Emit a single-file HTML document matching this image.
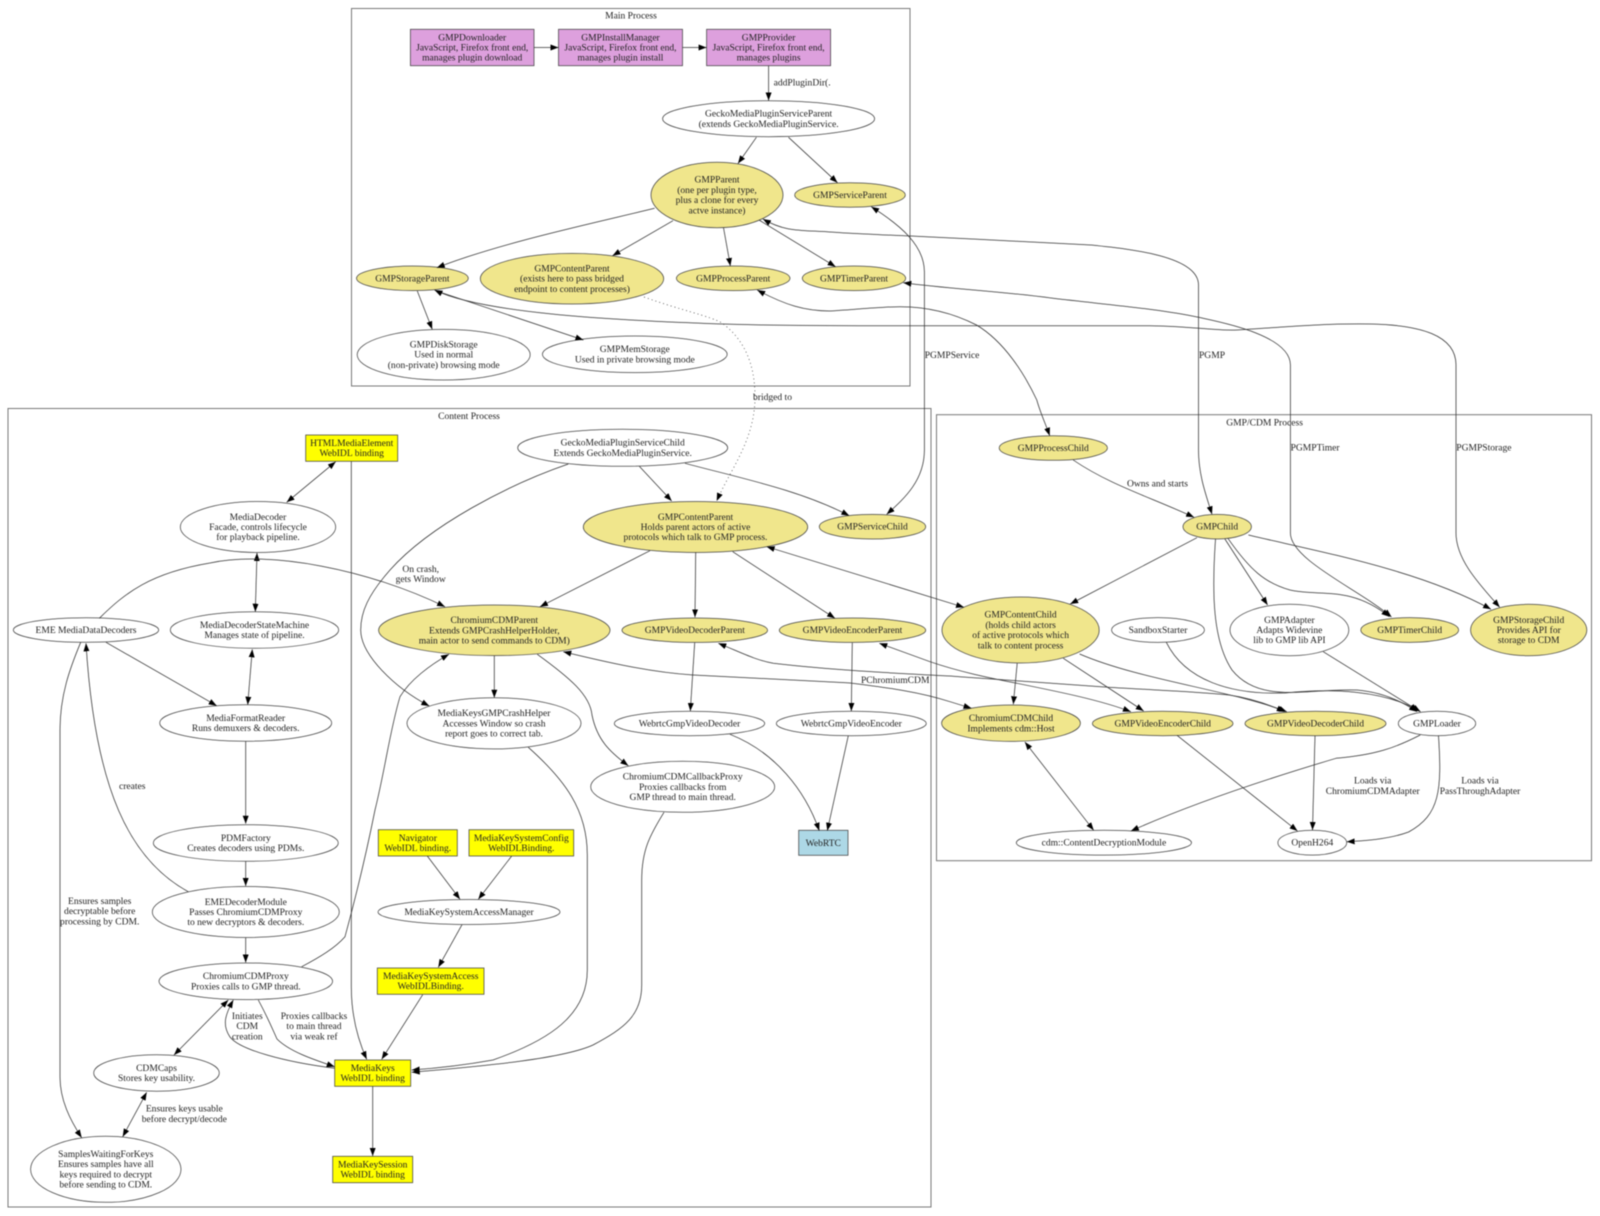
<!DOCTYPE html>
<html><head><meta charset="utf-8"><style>
html,body{margin:0;padding:0;background:#fff;width:1600px;height:1216px;overflow:hidden}
svg{display:block;filter:blur(.4px)}
text{font-family:"Liberation Serif",serif;font-size:9.55px;fill:#222;text-anchor:middle}
text.l{text-anchor:start}
.c{fill:none;stroke:#777;stroke-width:1}
.e path{fill:none;stroke:#333;stroke-width:.75;marker-end:url(#a)}
.e path.b{marker-start:url(#s)}
.e path.d{stroke-dasharray:1 3;stroke:#444}
.n ellipse,.n rect{stroke:#444;stroke-width:.75}
.w{fill:#fff}.k{fill:#f0e68c}.y{fill:#ff0}.p{fill:#dda0dd}.u{fill:#add8e6}
</style></head><body>
<svg xmlns="http://www.w3.org/2000/svg" width="1600" height="1216" viewBox="0 0 1600 1216">
<defs>
<marker id="a" markerUnits="userSpaceOnUse" viewBox="0 0 8 6" refX="8" refY="3" markerWidth="8" markerHeight="6" orient="auto"><path d="M0,0L8,3L0,6z" fill="#000"/></marker>
<marker id="s" markerUnits="userSpaceOnUse" viewBox="0 0 8 6" refX="0" refY="3" markerWidth="8" markerHeight="6" orient="auto"><path d="M8,0L0,3L8,6z" fill="#000"/></marker>
</defs>
<rect width="1600" height="1216" fill="#fff"/>
<rect class="c" x="351.5" y="8.5" width="558.5" height="377.5"/>
<rect class="c" x="8" y="408.5" width="923" height="798.5"/>
<rect class="c" x="936.5" y="414.7" width="655" height="446"/>
<text x="631" y="18.5">Main Process</text>
<text x="469" y="419">Content Process</text>
<text x="1264.6" y="425.5">GMP/CDM Process</text>

<g class="n">
<rect class="p" x="410.4" y="29.3" width="123.6" height="36.4"/>
<rect class="p" x="558.5" y="29.3" width="124" height="36.4"/>
<rect class="p" x="706.6" y="29.3" width="124" height="36.4"/>
<ellipse class="w" cx="768.6" cy="118.7" rx="106" ry="18"/>
<ellipse class="k" cx="717" cy="195" rx="66" ry="32.7"/>
<ellipse class="k" cx="850" cy="195" rx="55.3" ry="12.2"/>
<ellipse class="k" cx="412.4" cy="278.3" rx="55.9" ry="12.3"/>
<ellipse class="k" cx="572" cy="278.7" rx="91.7" ry="25.3"/>
<ellipse class="k" cx="733.2" cy="278.3" rx="56.8" ry="12.3"/>
<ellipse class="k" cx="854" cy="278.3" rx="51.7" ry="12.3"/>
<ellipse class="w" cx="443.7" cy="354.7" rx="86.5" ry="25.3"/>
<ellipse class="w" cx="634.8" cy="354.3" rx="92.4" ry="18.3"/>
<rect class="y" x="305.7" y="435" width="92" height="26.3"/>
<ellipse class="w" cx="258" cy="527" rx="77.7" ry="25.5"/>
<ellipse class="w" cx="86" cy="630" rx="72.7" ry="12.3"/>
<ellipse class="w" cx="254.5" cy="630" rx="84.2" ry="18.3"/>
<ellipse class="k" cx="494.3" cy="630.3" rx="115.7" ry="25.3"/>
<ellipse class="w" cx="245.7" cy="723" rx="86" ry="18.2"/>
<ellipse class="w" cx="494" cy="723.3" rx="87" ry="25.6"/>
<ellipse class="w" cx="245.8" cy="843" rx="92.5" ry="18.3"/>
<ellipse class="w" cx="245.8" cy="912" rx="93.5" ry="25.5"/>
<ellipse class="w" cx="245.8" cy="981.3" rx="86.8" ry="18.3"/>
<ellipse class="w" cx="156.5" cy="1073" rx="62.8" ry="18.2"/>
<ellipse class="w" cx="105.8" cy="1169.3" rx="75.2" ry="33"/>
<rect class="y" x="334.7" y="1060" width="76" height="26.3"/>
<rect class="y" x="332.7" y="1156.3" width="80" height="26.4"/>
<rect class="y" x="378.3" y="829.7" width="79" height="26.3"/>
<rect class="y" x="469" y="829.7" width="104.7" height="26.3"/>
<ellipse class="w" cx="469" cy="912" rx="91" ry="12.5"/>
<rect class="y" x="377.3" y="968" width="106.7" height="26.3"/>
<rect class="u" x="798.7" y="830.3" width="49.3" height="25"/>
<ellipse class="w" cx="622.7" cy="447.8" rx="105" ry="18.5"/>
<ellipse class="k" cx="695.5" cy="527" rx="112.2" ry="25.5"/>
<ellipse class="k" cx="872.5" cy="526.7" rx="53.2" ry="12.3"/>
<ellipse class="k" cx="694.8" cy="630.2" rx="72.8" ry="12.2"/>
<ellipse class="k" cx="852.5" cy="630.2" rx="73.2" ry="12.2"/>
<ellipse class="w" cx="689.5" cy="723.5" rx="75.2" ry="12.2"/>
<ellipse class="w" cx="851.3" cy="723.5" rx="75" ry="12.2"/>
<ellipse class="w" cx="682.7" cy="786.8" rx="92" ry="25.5"/>
<ellipse class="k" cx="1053.3" cy="448" rx="54.1" ry="12.3"/>
<ellipse class="k" cx="1217.2" cy="526.7" rx="34.2" ry="12.3"/>
<ellipse class="k" cx="1020.6" cy="630" rx="78.6" ry="33"/>
<ellipse class="w" cx="1158" cy="630" rx="46.4" ry="12.4"/>
<ellipse class="w" cx="1289.4" cy="630" rx="59.4" ry="25.7"/>
<ellipse class="k" cx="1409.7" cy="630" rx="48.9" ry="12.4"/>
<ellipse class="k" cx="1528.7" cy="630" rx="58.1" ry="25.7"/>
<ellipse class="k" cx="1011" cy="723.2" rx="69.4" ry="18.2"/>
<ellipse class="k" cx="1162.7" cy="723.5" rx="70.3" ry="12.2"/>
<ellipse class="k" cx="1315.5" cy="723.5" rx="70.5" ry="12.2"/>
<ellipse class="w" cx="1437" cy="723.5" rx="38.7" ry="12.2"/>
<ellipse class="w" cx="1103.9" cy="842.7" rx="87.6" ry="12.4"/>
<ellipse class="w" cx="1312.3" cy="842.7" rx="34.4" ry="12.4"/>
</g>

<g class="e">
<path d="M534,47.5L558.5,47.5"/>
<path d="M682.5,47.5L706.6,47.5"/>
<path d="M768.6,65.7L768.6,100.5"/>
<path d="M756.4,137.3L738,163.5"/>
<path d="M788.5,137.3L837.5,182.7"/>
<path d="M654.6,208.3C590,224 500,243 436.8,267.7"/>
<path d="M673,220.7L612.5,255.7"/>
<path d="M723.5,227.7L730.4,266"/>
<path d="M759,220L835.6,266.7"/>
<path d="M417.3,291L432.2,329.3"/>
<path d="M435.7,290.7L583.4,340"/>
<path class="d" d="M644,297C680,310 710,316 722,323C745,340 755,365 755,397C755,440 730,470 716.7,501"/>
<path class="b" d="M871.2,206.7C900,225 924.4,245 924.4,272L924.4,450C924.4,480 905,498 886.7,514.3"/>
<path class="b" d="M762.9,219C785,232 800,230 830,232C860,234 885,235 910.7,236C970,239 1040,242 1091,245C1130,249 1198.5,256 1198.5,285L1198.5,450C1198.5,475 1206,495 1212,514.3"/>
<path class="b" d="M903.3,282.7C950,289 1000,291 1053,298.3C1110,305 1160,309 1198.5,317.3C1220,322 1290.4,335 1290.4,365L1290.4,533C1290.4,560 1360,590 1391.5,617"/>
<path class="b" d="M434.5,290C480,312 600,320 722,324C790,326 850,325.7 900,325.7L1150,325.7C1190,326 1215,331 1236.8,330C1260,329 1320,323 1370.7,324C1420,325 1456,335 1456,365L1456,533C1456,560 1480,585 1499.7,607.3"/>
<path class="b" d="M757.2,290C785,305 805,311 830,311C860,309 885,306.7 900,306.7C930,306.7 955,314 976.5,325C1005,342 1025,375 1036.8,400C1040,412 1046,425 1049.7,435.7"/>
<path d="M1073.2,460C1110,485 1150,497 1194.1,517.3"/>
<path d="M1197,537.7L1070.2,604"/>
<path d="M1224.9,539L1267.6,605"/>
<path d="M1227.9,538.3C1250,570 1265,583 1290,590C1320,597 1350,585 1389.4,616.7"/>
<path d="M1248.4,535C1320,552 1420,570 1491,609.3"/>
<path d="M1215.5,539C1212,590 1212,640 1232,670C1260,705 1310,688 1357,690C1380,692 1400,700 1417,711.7"/>
<path d="M1166.3,642.3C1185,680 1230,695 1285,693C1330,688 1385,690 1420.6,711.7"/>
<path d="M1323.2,651.7L1418.5,710.7"/>
<path d="M1017.2,663.3L1013.3,704.3"/>
<path d="M1063.3,658.3L1143.7,711"/>
<path d="M1079.6,654C1140,680 1230,690 1286.8,711.7"/>
<path class="b" d="M563.3,651.7C610,663 650,672 693,675C750,678 800,680 850,683C890,688 920,692 950,701.7L971.5,708.3"/>
<path class="b" d="M718.3,643.3C740,652 755,660 773.3,663.3C830,670 890,673 950,676C1000,680 1050,683 1100.9,686.7C1150,690 1190,691 1229,695C1250,698 1270,705 1284.7,711.7"/>
<path class="b" d="M879.3,643.3L930,661.7C960,672 990,678 1015.5,683C1060,692 1100,700 1130.9,711.7"/>
<path class="b" d="M766.7,546.7L964,607.3"/>
<path d="M639.3,466.3L671.7,501"/>
<path d="M685,463.3C740,478 800,490 849.3,515.7"/>
<path d="M568.3,464C510,484 430,525 390,570C368,595 360.7,612 360.7,630C360.7,655 395,688 429.3,706"/>
<path d="M650,550.7L540,606.7"/>
<path d="M695.7,552.3L695,617.3"/>
<path d="M732.7,551.7L835,618.3"/>
<path d="M694.7,642.7L690.3,711"/>
<path d="M852.3,642.7L851.3,711"/>
<path d="M730,734.3C775,752 805,790 819.3,830.7"/>
<path d="M848.3,735.7L827.3,830.7"/>
<path d="M494.3,655.7L494.3,697.7"/>
<path d="M537.3,654.3C570,678 590,695 592,715C597,740 610,752 628.3,765.7"/>
<path d="M528.3,747.3C565,780 587.3,810 587.3,855L587.3,970C587.3,1015 550,1040 493,1060C465,1065 440,1068 411.7,1070"/>
<path d="M664,812.3C650,835 641.7,850 641.7,880L641.7,985C641.7,1015 625,1028 593,1045C560,1060 470,1067 411.7,1072.3"/>
<path d="M351.3,461.3L351.3,986.7C351.3,1015 358,1040 366.7,1059.3"/>
<path class="b" d="M335.7,461.7L286.7,502.3"/>
<path class="b" d="M257,553L255.3,611.7"/>
<path class="b" d="M252.3,649.3L247.7,704.7"/>
<path d="M99.3,618.3C125,593 150,573 210,563C270,550 370,570 445,606.7"/>
<path d="M106,642.3L216.7,705.7"/>
<path d="M80.7,642.3C70,668 60,695 60,730L60,1076.7C60,1100 70,1120 81.7,1137.7"/>
<path d="M188.3,891.7C130,860 95,790 86,643.3"/>
<path d="M245.7,741.3L245.7,823.7"/>
<path d="M245.7,861.3L245.7,886"/>
<path d="M245.7,937.7L245.7,962.5"/>
<path d="M301.7,966.7C320,957 335,948 345,936.7C355,900 365,860 375,810C385,770 390,730 400,696.7C410,680 430,665 449,654.3"/>
<path class="b" d="M228.3,1000L174,1055"/>
<path class="b" d="M146.7,1092.3L122.7,1136.7"/>
<path d="M334.7,1068.3C285,1062 240,1050 230,1037C222,1025 225,1015 233.3,1000"/>
<path d="M258.3,1000C268,1018 272,1028 277,1039C290,1052 315,1060 334.7,1066.7"/>
<path d="M422.7,994.7L381.7,1059.3"/>
<path d="M427.3,856L460,899.3"/>
<path d="M511.7,856L478.3,899.3"/>
<path d="M462,924.7L438.3,967.3"/>
<path d="M372.7,1086L372.7,1156"/>
<path class="b" d="M1024.9,742L1093.7,830.3"/>
<path d="M1420.2,735C1395,748 1375,755 1336,758.3C1290,772 1200,800 1130.9,831"/>
<path d="M1438.5,735.7C1442,790 1440,815 1408.6,832C1390,839 1365,841 1346.7,841.7"/>
<path d="M1177,735.3L1297.5,831"/>
<path d="M1315,735.7L1312.5,830"/>
</g>

<g>
<text x="472.2" y="40.3">GMPDownloader<tspan x="472.2" dy="10.2">JavaScript, Firefox front end,</tspan><tspan x="472.2" dy="10.2">manages plugin download</tspan></text>
<text x="620.5" y="40.3">GMPInstallManager<tspan x="620.5" dy="10.2">JavaScript, Firefox front end,</tspan><tspan x="620.5" dy="10.2">manages plugin install</tspan></text>
<text x="768.6" y="40.3">GMPProvider<tspan x="768.6" dy="10.2">JavaScript, Firefox front end,</tspan><tspan x="768.6" dy="10.2">manages plugins</tspan></text>
<text x="768.6" y="116.6">GeckoMediaPluginServiceParent<tspan x="768.6" dy="10.2">(extends GeckoMediaPluginService.</tspan></text>
<text x="717" y="182.7">GMPParent<tspan x="717" dy="10.2">(one per plugin type,</tspan><tspan x="717" dy="10.2">plus a clone for every</tspan><tspan x="717" dy="10.2">actve instance)</tspan></text>
<text x="850" y="198">GMPServiceParent</text>
<text x="412.4" y="281.3">GMPStorageParent</text>
<text x="572" y="271.5">GMPContentParent<tspan x="572" dy="10.2">(exists here to pass bridged</tspan><tspan x="572" dy="10.2">endpoint to content processes)</tspan></text>
<text x="733.2" y="281.3">GMPProcessParent</text>
<text x="854" y="281.3">GMPTimerParent</text>
<text x="443.7" y="347.5">GMPDiskStorage<tspan x="443.7" dy="10.2">Used in normal</tspan><tspan x="443.7" dy="10.2">(non-private) browsing mode</tspan></text>
<text x="634.8" y="352.2">GMPMemStorage<tspan x="634.8" dy="10.2">Used in private browsing mode</tspan></text>
<text x="351.7" y="446">HTMLMediaElement<tspan x="351.7" dy="10.2">WebIDL binding</tspan></text>
<text x="258" y="519.8">MediaDecoder<tspan x="258" dy="10.2">Facade, controls lifecycle</tspan><tspan x="258" dy="10.2">for playback pipeline.</tspan></text>
<text x="86" y="633">EME MediaDataDecoders</text>
<text x="254.5" y="627.9">MediaDecoderStateMachine<tspan x="254.5" dy="10.2">Manages state of pipeline.</tspan></text>
<text x="494.3" y="623.1">ChromiumCDMParent<tspan x="494.3" dy="10.2">Extends GMPCrashHelperHolder,</tspan><tspan x="494.3" dy="10.2">main actor to send commands to CDM)</tspan></text>
<text x="245.7" y="720.9">MediaFormatReader<tspan x="245.7" dy="10.2">Runs demuxers &amp; decoders.</tspan></text>
<text x="494" y="716.1">MediaKeysGMPCrashHelper<tspan x="494" dy="10.2">Accesses Window so crash</tspan><tspan x="494" dy="10.2">report goes to correct tab.</tspan></text>
<text x="245.8" y="840.9">PDMFactory<tspan x="245.8" dy="10.2">Creates decoders using PDMs.</tspan></text>
<text x="245.8" y="904.8">EMEDecoderModule<tspan x="245.8" dy="10.2">Passes ChromiumCDMProxy</tspan><tspan x="245.8" dy="10.2">to new decryptors &amp; decoders.</tspan></text>
<text x="245.8" y="979.2">ChromiumCDMProxy<tspan x="245.8" dy="10.2">Proxies calls to GMP thread.</tspan></text>
<text x="156.5" y="1070.9">CDMCaps<tspan x="156.5" dy="10.2">Stores key usability.</tspan></text>
<text x="105.8" y="1157">SamplesWaitingForKeys<tspan x="105.8" dy="10.2">Ensures samples have all</tspan><tspan x="105.8" dy="10.2">keys required to decrypt</tspan><tspan x="105.8" dy="10.2">before sending to CDM.</tspan></text>
<text x="372.7" y="1071">MediaKeys<tspan x="372.7" dy="10.2">WebIDL binding</tspan></text>
<text x="372.7" y="1167.4">MediaKeySession<tspan x="372.7" dy="10.2">WebIDL binding</tspan></text>
<text x="417.8" y="840.8">Navigator<tspan x="417.8" dy="10.2">WebIDL binding.</tspan></text>
<text x="521.3" y="840.8">MediaKeySystemConfig<tspan x="521.3" dy="10.2">WebIDLBinding.</tspan></text>
<text x="469" y="915">MediaKeySystemAccessManager</text>
<text x="430.7" y="979">MediaKeySystemAccess<tspan x="430.7" dy="10.2">WebIDLBinding.</tspan></text>
<text x="823.3" y="845.8">WebRTC</text>
<text x="622.7" y="445.7">GeckoMediaPluginServiceChild<tspan x="622.7" dy="10.2">Extends GeckoMediaPluginService.</tspan></text>
<text x="695.5" y="519.8">GMPContentParent<tspan x="695.5" dy="10.2">Holds parent actors of active</tspan><tspan x="695.5" dy="10.2">protocols which talk to GMP process.</tspan></text>
<text x="872.5" y="529.7">GMPServiceChild</text>
<text x="694.8" y="633.2">GMPVideoDecoderParent</text>
<text x="852.5" y="633.2">GMPVideoEncoderParent</text>
<text x="689.5" y="726.5">WebrtcGmpVideoDecoder</text>
<text x="851.3" y="726.5">WebrtcGmpVideoEncoder</text>
<text x="682.7" y="779.6">ChromiumCDMCallbackProxy<tspan x="682.7" dy="10.2">Proxies callbacks from</tspan><tspan x="682.7" dy="10.2">GMP thread to main thread.</tspan></text>
<text x="1053.3" y="451">GMPProcessChild</text>
<text x="1217.2" y="529.7">GMPChild</text>
<text x="1020.6" y="617.7">GMPContentChild<tspan x="1020.6" dy="10.2">(holds child actors</tspan><tspan x="1020.6" dy="10.2">of active protocols which</tspan><tspan x="1020.6" dy="10.2">talk to content process</tspan></text>
<text x="1158" y="633">SandboxStarter</text>
<text x="1289.4" y="622.8">GMPAdapter<tspan x="1289.4" dy="10.2">Adapts Widevine</tspan><tspan x="1289.4" dy="10.2">lib to GMP lib API</tspan></text>
<text x="1409.7" y="633">GMPTimerChild</text>
<text x="1528.7" y="622.8">GMPStorageChild<tspan x="1528.7" dy="10.2">Provides API for</tspan><tspan x="1528.7" dy="10.2">storage to CDM</tspan></text>
<text x="1011" y="721.1">ChromiumCDMChild<tspan x="1011" dy="10.2">Implements cdm::Host</tspan></text>
<text x="1162.7" y="726.5">GMPVideoEncoderChild</text>
<text x="1315.5" y="726.5">GMPVideoDecoderChild</text>
<text x="1437" y="726.5">GMPLoader</text>
<text x="1103.9" y="845.7">cdm::ContentDecryptionModule</text>
<text x="1312.3" y="845.7">OpenH264</text>

<text class="l" x="773.6" y="85.7">addPluginDir(.</text>
<text class="l" x="753" y="400">bridged to</text>
<text class="l" x="924.7" y="358">PGMPService</text>
<text class="l" x="1199" y="358">PGMP</text>
<text class="l" x="1290.6" y="450.7">PGMPTimer</text>
<text class="l" x="1456.3" y="450.7">PGMPStorage</text>
<text class="l" x="1127" y="486.3">Owns and starts</text>
<text class="l" x="861" y="683">PChromiumCDM</text>
<text x="420.7" y="572">On crash,<tspan x="420.7" dy="10.2">gets Window</tspan></text>
<text class="l" x="119" y="789">creates</text>
<text x="99.7" y="904">Ensures samples<tspan x="99.7" dy="10.2">decryptable before</tspan><tspan x="99.7" dy="10.2">processing by CDM.</tspan></text>
<text x="184.3" y="1111.7">Ensures keys usable<tspan x="184.3" dy="10.2">before decrypt/decode</tspan></text>
<text x="247.3" y="1019">Initiates<tspan x="247.3" dy="10.2">CDM</tspan><tspan x="247.3" dy="10.2">creation</tspan></text>
<text x="314" y="1019">Proxies callbacks<tspan x="314" dy="10.2">to main thread</tspan><tspan x="314" dy="10.2">via weak ref</tspan></text>
<text x="1372.7" y="783.7">Loads via<tspan x="1372.7" dy="10.2">ChromiumCDMAdapter</tspan></text>
<text x="1480" y="783.7">Loads via<tspan x="1480" dy="10.2">PassThroughAdapter</tspan></text>
</g>
</svg>
</body></html>
